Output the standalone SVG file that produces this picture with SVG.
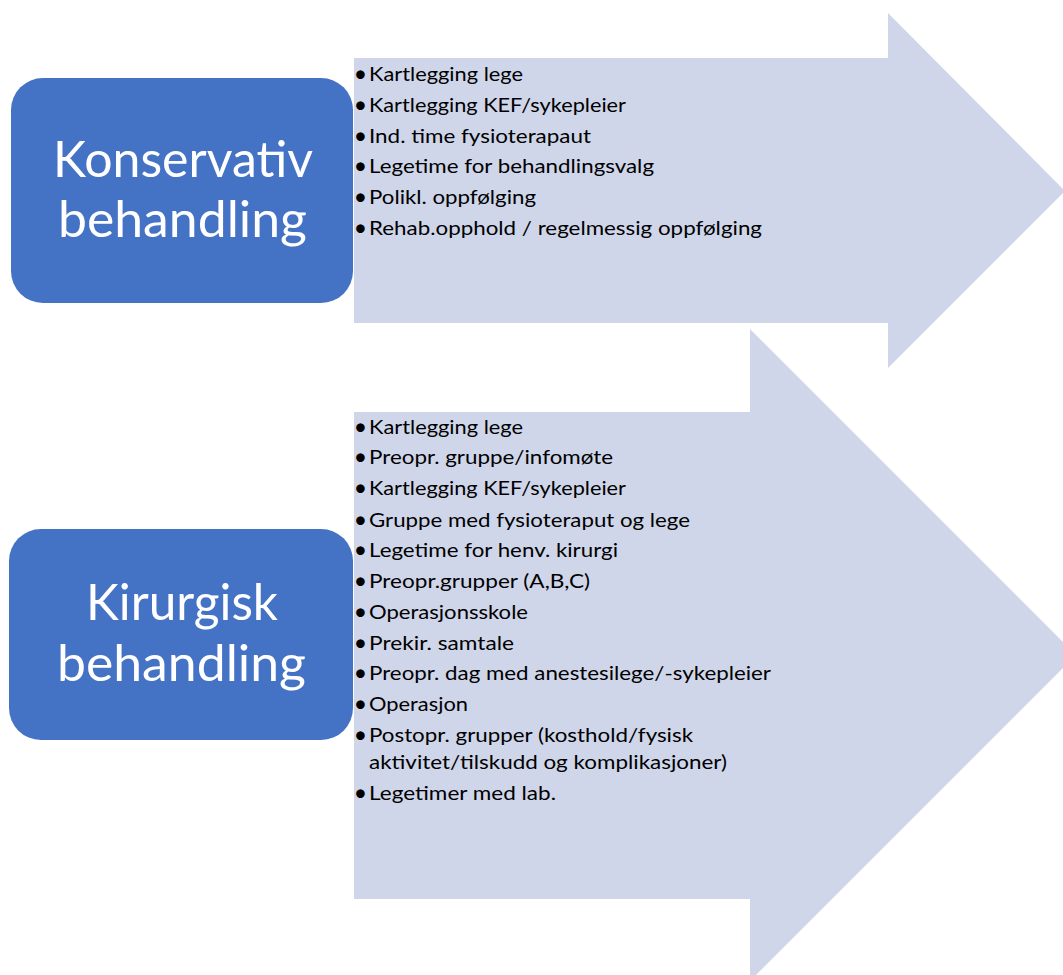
<svg xmlns="http://www.w3.org/2000/svg" width="1063" height="975" viewBox="0 0 1063 975">
<style>
.arrow{fill:#CFD6EA;}
.box{fill:#4472C4;}
.big{font-family:Lato,"Open Sans","Liberation Sans",sans-serif;font-size:50px;fill:#FFFFFF;text-anchor:middle;}
.item{font-family:Lato,"Open Sans","Liberation Sans",sans-serif;font-size:20px;fill:#000000;}
.bul{font-family:Lato,"Open Sans","Liberation Sans",sans-serif;font-size:23px;fill:#000000;text-anchor:middle;}
</style>
<rect width="1063" height="975" fill="#FFFFFF"/>
<g id="connectors"></g>
<g id="konservativ-steps">
<polygon class="arrow" points="354,58 888,58 888,13 1065,191 888,368 888,323 354,323"/>
<text class="bul" x="360.5" y="81.5">•</text><text class="item" x="369" y="81" textLength="154" lengthAdjust="spacingAndGlyphs">Kartlegging lege</text>
<text class="bul" x="360.5" y="112.5">•</text><text class="item" x="369" y="112" textLength="257" lengthAdjust="spacingAndGlyphs">Kartlegging KEF/sykepleier</text>
<text class="bul" x="360.5" y="143.5">•</text><text class="item" x="369" y="143" textLength="222" lengthAdjust="spacingAndGlyphs">Ind. time fysioterapaut</text>
<text class="bul" x="360.5" y="173.5">•</text><text class="item" x="369" y="173" textLength="285" lengthAdjust="spacingAndGlyphs">Legetime for behandlingsvalg</text>
<text class="bul" x="360.5" y="204.5">•</text><text class="item" x="369" y="204" textLength="167" lengthAdjust="spacingAndGlyphs">Polikl. oppfølging</text>
<text class="bul" x="360.5" y="235.5">•</text><text class="item" x="369" y="235" textLength="393" lengthAdjust="spacingAndGlyphs">Rehab.opphold / regelmessig oppfølging</text>
</g>
<g id="kirurgisk-steps">
<polygon class="arrow" points="354,412 750,412 750,329 1076,655 750,981 750,899 354,899"/>
<text class="bul" x="360.5" y="434.5">•</text><text class="item" x="369" y="434" textLength="154" lengthAdjust="spacingAndGlyphs">Kartlegging lege</text>
<text class="bul" x="360.5" y="464.5">•</text><text class="item" x="369" y="464" textLength="244" lengthAdjust="spacingAndGlyphs">Preopr. gruppe/infomøte</text>
<text class="bul" x="360.5" y="495.5">•</text><text class="item" x="369" y="495" textLength="257" lengthAdjust="spacingAndGlyphs">Kartlegging KEF/sykepleier</text>
<text class="bul" x="360.5" y="527.5">•</text><text class="item" x="369" y="527" textLength="321" lengthAdjust="spacingAndGlyphs">Gruppe med fysioteraput og lege</text>
<text class="bul" x="360.5" y="557.5">•</text><text class="item" x="369" y="557" textLength="249" lengthAdjust="spacingAndGlyphs">Legetime for henv. kirurgi</text>
<text class="bul" x="360.5" y="588.5">•</text><text class="item" x="369" y="588" textLength="221" lengthAdjust="spacingAndGlyphs">Preopr.grupper (A,B,C)</text>
<text class="bul" x="360.5" y="619.5">•</text><text class="item" x="369" y="619" textLength="159" lengthAdjust="spacingAndGlyphs">Operasjonsskole</text>
<text class="bul" x="360.5" y="650.5">•</text><text class="item" x="369" y="650" textLength="145" lengthAdjust="spacingAndGlyphs">Prekir. samtale</text>
<text class="bul" x="360.5" y="680.5">•</text><text class="item" x="369" y="680" textLength="402" lengthAdjust="spacingAndGlyphs">Preopr. dag med anestesilege/-sykepleier</text>
<text class="bul" x="360.5" y="711.5">•</text><text class="item" x="369" y="711" textLength="99" lengthAdjust="spacingAndGlyphs">Operasjon</text>
<text class="bul" x="360.5" y="742.5">•</text><text class="item" x="369" y="742" textLength="324" lengthAdjust="spacingAndGlyphs">Postopr. grupper (kosthold/fysisk</text>
<text class="item" x="369" y="769" textLength="358" lengthAdjust="spacingAndGlyphs">aktivitet/tilskudd og komplikasjoner)</text>
<text class="bul" x="360.5" y="800.5">•</text><text class="item" x="369" y="800" textLength="187" lengthAdjust="spacingAndGlyphs">Legetimer med lab.</text>
</g>
<g id="konservativ">
<rect class="box" x="11" y="78" width="342" height="225" rx="32" ry="32"/>
<text class="big" x="183" y="177" textLength="260" lengthAdjust="spacingAndGlyphs">Konservativ</text>
<text class="big" x="182.5" y="237" textLength="249" lengthAdjust="spacingAndGlyphs">behandling</text>
</g>
<g id="kirurgisk">
<rect class="box" x="9" y="529" width="344" height="211" rx="32" ry="32"/>
<text class="big" x="182" y="620" textLength="192" lengthAdjust="spacingAndGlyphs">Kirurgisk</text>
<text class="big" x="181.5" y="681" textLength="249" lengthAdjust="spacingAndGlyphs">behandling</text>
</g>
</svg>
